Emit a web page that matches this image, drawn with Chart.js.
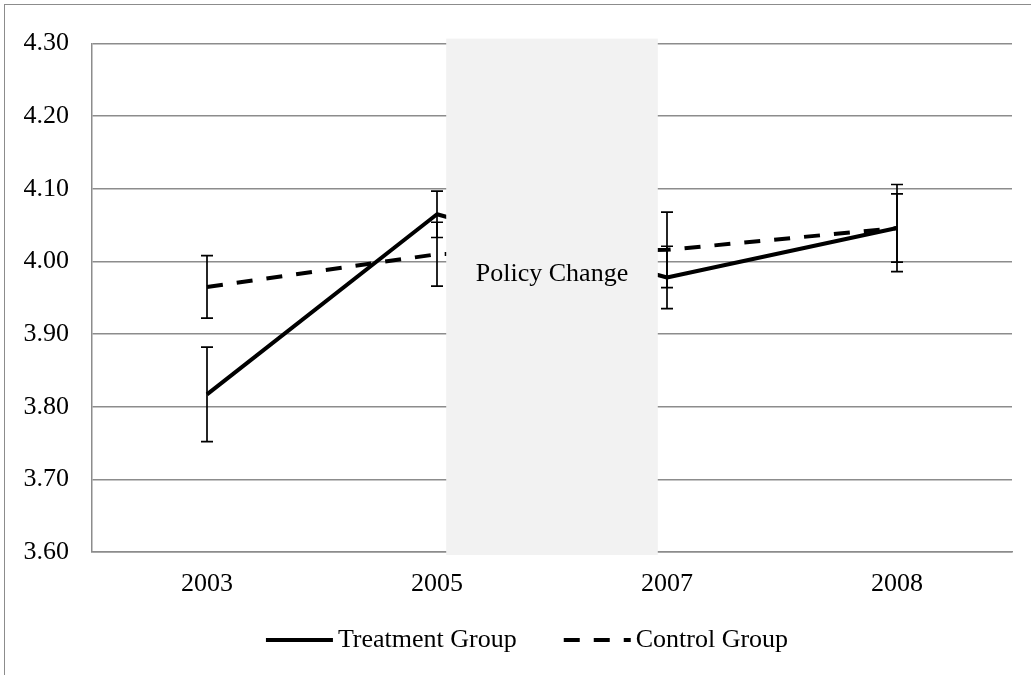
<!DOCTYPE html>
<html>
<head>
<meta charset="utf-8">
<title>Treatment vs Control</title>
<script src="https://cdn.jsdelivr.net/npm/chart.js@4.4.1/dist/chart.umd.min.js"></script>
<style>
  html, body { margin: 0; padding: 0; background: #fff; }
  #frame {
    position: absolute; left: 4px; top: 4px;
    width: 1027px; height: 671px;
    border-left: 1px solid #8c8c8c;
    border-top: 1px solid #8c8c8c;
  }
  #chart { display: block; }
</style>
</head>
<body>
<div id="frame"><canvas id="chart" width="1026" height="670"></canvas></div>
<script>
// ----------------------
// Data
// ----------------------
const years = ['2003', '2005', '2007', '2008'];
const treatment = [3.817, 4.065, 3.978, 4.046];
const treatmentErr = [0.065, 0.032, 0.043, 0.060];
const control = [3.965, 4.010, 4.016, 4.046];
const controlErr = [0.043, 0.044, 0.052, 0.047];
const yTicks = [3.6, 3.7, 3.8, 3.9, 4.0, 4.1, 4.2, 4.3];
const policyLabel = 'Policy Change';

const FONT = "'Liberation Serif', 'Times New Roman', serif";
const GRID = '#8c8c8c';
const DASH = [16, 14];
const LINE_W = 4;

// legend box: sample line length, gap to the text, box width
const SAMPLE_LEN = 67;
const SAMPLE_GAP = 5;
const LEGEND_BOX = 96;

Chart.defaults.font.family = FONT;
Chart.defaults.font.size = 26;
Chart.defaults.color = '#000';

// legend sample: a line that ends just before the label text;
// the empty start of the box keeps the two items apart
function legendSample(dash) {
  const half = 13; // Chart.js puts the text fontSize/2 after the box
  const c = document.createElement('canvas');
  c.width = LEGEND_BOX + half * 2;
  c.height = 8;
  const g = c.getContext('2d');
  g.strokeStyle = '#000';
  g.lineWidth = LINE_W;
  g.setLineDash(dash);
  g.beginPath();
  g.moveTo(c.width - SAMPLE_GAP - SAMPLE_LEN, 4);
  g.lineTo(c.width - SAMPLE_GAP, 4);
  g.stroke();
  return c;
}

// ----------------------
// Error bars
// ----------------------
const errorBars = {
  id: 'errorBars',
  afterDatasetsDraw(chart, args, opts) {
    const { ctx, scales: { x, y } } = chart;
    ctx.save();
    ctx.strokeStyle = '#000';
    ctx.lineWidth = opts.width;
    chart.data.datasets.forEach(ds => {
      ds.data.forEach((v, i) => {
        const e = ds.errors[i];
        const px = x.getPixelForValue(i);
        const top = y.getPixelForValue(v + e);
        const bot = y.getPixelForValue(v - e);
        ctx.beginPath();
        ctx.moveTo(px, top); ctx.lineTo(px, bot);
        ctx.moveTo(px - opts.cap, top); ctx.lineTo(px + opts.cap, top);
        ctx.moveTo(px - opts.cap, bot); ctx.lineTo(px + opts.cap, bot);
        ctx.stroke();
      });
    });
    ctx.restore();
  }
};

// ----------------------
// Shaded policy period (drawn over the lines)
// ----------------------
const policyBand = {
  id: 'policyBand',
  afterDatasetsDraw(chart, args, opts) {
    const { ctx, chartArea, scales: { x } } = chart;
    const left = x.getPixelForValue(opts.from);
    const right = x.getPixelForValue(opts.to);
    const top = chartArea.top - 5;
    const bottom = chartArea.bottom + 3;
    ctx.save();
    ctx.fillStyle = opts.color;
    ctx.fillRect(left, top, right - left, bottom - top);
    ctx.fillStyle = '#000';
    ctx.font = `26px ${FONT}`;
    ctx.textAlign = 'center';
    ctx.textBaseline = 'alphabetic';
    ctx.fillText(opts.text, (left + right) / 2, opts.baseline);
    ctx.restore();
  }
};

const ctx = document.getElementById('chart').getContext('2d');

new Chart(ctx, {
  type: 'line',
  data: {
    labels: years,
    datasets: [
      {
        label: 'Treatment Group',
        data: treatment,
        errors: treatmentErr,
        borderColor: '#000',
        backgroundColor: '#000',
        borderWidth: LINE_W,
        borderJoinStyle: 'round',
        pointRadius: 0,
        tension: 0
      },
      {
        label: 'Control Group',
        data: control,
        errors: controlErr,
        borderColor: '#000',
        backgroundColor: '#000',
        borderWidth: LINE_W,
        borderDash: DASH,
        borderCapStyle: 'butt',
        pointRadius: 0,
        tension: 0
      }
    ]
  },
  plugins: [errorBars, policyBand],
  options: {
    responsive: false,
    animation: false,
    events: [],
    layout: { padding: { top: 28, right: 19, bottom: 12, left: 0 } },
    plugins: {
      tooltip: { enabled: false },
      errorBars: { width: 1.7, cap: 6 },
      policyBand: { from: 1.04, to: 1.96, color: '#f2f2f2', text: policyLabel, baseline: 276 },
      legend: {
        position: 'bottom',
        labels: {
          font: { size: 26 },
          color: '#000',
          padding: 10,
          usePointStyle: true,
          pointStyleWidth: LEGEND_BOX,
          generateLabels(chart) {
            return chart.data.datasets.map((ds, i) => ({
              text: ds.label,
              datasetIndex: i,
              pointStyle: legendSample(ds.borderDash || []),
              fillStyle: '#000',
              strokeStyle: '#000',
              lineWidth: 0,
              hidden: false
            }));
          }
        }
      }
    },
    scales: {
      x: {
        offset: true,
        grid: { display: false, drawTicks: false },
        border: { display: true, color: GRID, width: 1.5 },
        ticks: { padding: 17, font: { size: 26 } },
        afterFit(scale) { scale.height = 65; }
      },
      y: {
        min: 3.6,
        max: 4.3,
        afterBuildTicks(scale) { scale.ticks = yTicks.map(v => ({ value: v })); },
        grid: { color: GRID, lineWidth: 1.5, drawTicks: false },
        border: { display: true, color: GRID, width: 1.5 },
        ticks: { padding: 23, font: { size: 26 }, callback: v => v.toFixed(2) },
        afterFit(scale) { scale.width = 87; }
      }
    }
  }
});
</script>
</body>
</html>
